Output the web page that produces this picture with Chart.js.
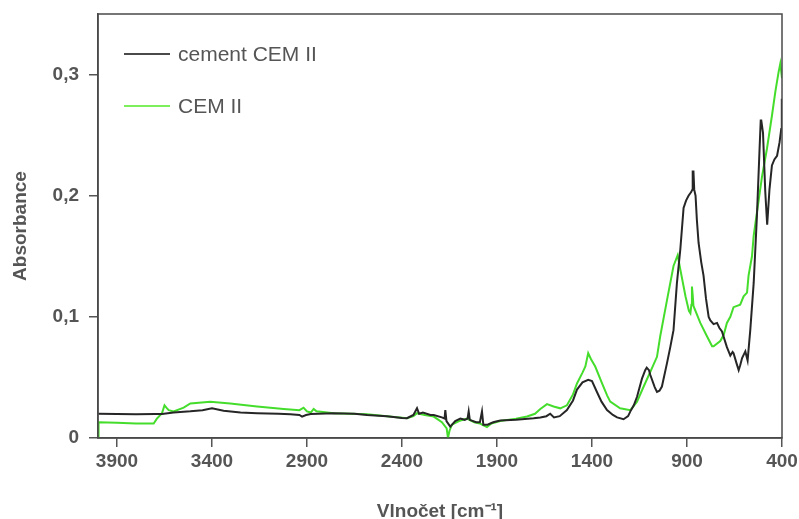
<!DOCTYPE html>
<html>
<head>
<meta charset="utf-8">
<script src="https://cdn.jsdelivr.net/npm/chart.js@4"></script>
<style>
  html, body { margin: 0; padding: 0; background: #fff; }
  #wrap { width: 799px; height: 519px; }
</style>
</head>
<body>
<div id="wrap"><canvas id="ftir" width="799" height="519"></canvas></div>
<script>
// FTIR spectra, wavenumber [cm-1] vs absorbance
var cementWave = [3998, 3900, 3800, 3700, 3663, 3602, 3514, 3450, 3400, 3339, 3250, 3163, 3050, 2988, 2940, 2926, 2905, 2880,
    2760, 2650, 2584, 2480, 2400, 2374, 2340, 2321, 2310, 2290, 2250, 2233, 2190, 2176, 2172, 2166, 2146, 2120, 2093, 2070,
    2055, 2049, 2043, 2010, 1990, 1979, 1972, 1950, 1920, 1883, 1800, 1707, 1672, 1640, 1620, 1600, 1570, 1532, 1500, 1479,
    1450, 1420, 1400, 1374, 1350, 1321, 1290, 1268, 1234, 1210, 1198, 1180, 1163, 1137, 1120, 1112, 1100, 1093, 1070, 1058,
    1045, 1032, 1005, 988, 971, 953, 935, 918, 905, 892, 878, 872, 870, 866, 862, 855, 848, 839, 825, 813, 800, 786, 777,
    760, 742, 730, 716, 700, 690, 672, 660, 655, 640, 628, 620, 610, 593, 581, 567, 549, 532, 518, 512, 509, 500, 488, 478,
    474, 466, 453, 440, 426, 413, 404, 401];
var cementAbs = [0.020, 0.0198, 0.0196, 0.0198, 0.0198, 0.021, 0.022, 0.023, 0.0245, 0.0225, 0.021, 0.0205, 0.020, 0.0196, 0.019, 0.0177, 0.019, 0.0198,
    0.0205, 0.020, 0.019, 0.018, 0.0165, 0.0163, 0.019, 0.0246, 0.020, 0.021, 0.019, 0.019, 0.017, 0.016, 0.023, 0.014, 0.0094, 0.014, 0.016, 0.015,
    0.016, 0.022, 0.015, 0.013, 0.013, 0.022, 0.011, 0.011, 0.013, 0.0145, 0.015, 0.0163, 0.017, 0.018, 0.020, 0.017, 0.018, 0.023, 0.031, 0.040,
    0.046, 0.048, 0.047, 0.038, 0.030, 0.023, 0.019, 0.017, 0.0155, 0.018, 0.022, 0.027, 0.034, 0.049, 0.056, 0.058, 0.056, 0.052, 0.042, 0.038,
    0.039, 0.0425, 0.062, 0.075, 0.089, 0.128, 0.156, 0.190, 0.196, 0.200, 0.203, 0.205, 0.220, 0.220, 0.205, 0.200, 0.180, 0.161, 0.145, 0.134, 0.115, 0.100, 0.097,
    0.094, 0.095, 0.091, 0.088, 0.080, 0.075, 0.068, 0.071, 0.070, 0.062, 0.056, 0.060, 0.066, 0.0715, 0.064, 0.089, 0.128, 0.183, 0.239, 0.262, 0.262, 0.252, 0.203, 0.176,
    0.176, 0.205, 0.225, 0.230, 0.233, 0.244, 0.255, 0.280];

var cemWave = [4000, 3997, 3900, 3800, 3707, 3690, 3663, 3650, 3640, 3628, 3602, 3549, 3514, 3409, 3304, 3163, 3023, 2940, 2918, 2900,
    2880, 2865, 2850, 2760, 2584, 2480, 2374, 2340, 2321, 2280, 2233, 2190, 2165, 2158, 2150, 2137, 2100, 2058, 2020, 1990,
    1979, 1953, 1930, 1883, 1800, 1742, 1700, 1672, 1637, 1602, 1567, 1532, 1500, 1479, 1450, 1435, 1420, 1405, 1383, 1347,
    1320, 1304, 1252, 1198, 1163, 1128, 1092, 1058, 1041, 1005, 971, 949, 935, 908, 890, 882, 877, 874, 870, 866, 830, 795,
    768, 760, 725, 707, 690, 672, 655, 620, 602, 584, 576, 558, 549, 532, 505, 479, 453, 435, 418, 409, 400];
var cemAbs = [0.0, 0.013, 0.0125, 0.012, 0.012, 0.016, 0.0205, 0.027, 0.025, 0.023, 0.022, 0.025, 0.0285, 0.030, 0.0285, 0.026, 0.024, 0.023, 0.025, 0.022,
    0.021, 0.024, 0.022, 0.0205, 0.0196, 0.018, 0.0163, 0.018, 0.0205, 0.019, 0.0177, 0.013, 0.008, 0.0, 0.006, 0.011, 0.014, 0.016, 0.013, 0.012,
    0.011, 0.009, 0.012, 0.014, 0.016, 0.0177, 0.020, 0.024, 0.028, 0.026, 0.0245, 0.027, 0.036, 0.045, 0.054, 0.059, 0.070, 0.065, 0.059, 0.045,
    0.035, 0.030, 0.0245, 0.023, 0.030, 0.0425, 0.055, 0.067, 0.084, 0.114, 0.142, 0.151, 0.139, 0.117, 0.105, 0.103, 0.110, 0.125, 0.118, 0.109, 0.095, 0.084,
    0.0757, 0.0757, 0.080, 0.085, 0.095, 0.100, 0.108, 0.110, 0.117, 0.120, 0.134, 0.150, 0.167, 0.186, 0.216, 0.239, 0.266, 0.286, 0.302, 0.309, 0.297];

var seriesNames = ['cement CEM II', 'CEM II'];
var xTickValues = [3900, 3400, 2900, 2400, 1900, 1400, 900, 400];
var yTickValues = [0, 0.1, 0.2, 0.3];

var FONT = "'Liberation Sans', Arial, sans-serif";
var GREY = '#555';

function toPoints(xs, ys) {
    return xs.map((x, i) => ({ x: x, y: ys[i] }));
}

// box around the plot area plus the legend inside it
var framePlugin = {
    id: 'frameAndLegend',
    afterDraw(chart) {
        var ctx = chart.ctx, a = chart.chartArea;
        ctx.save();
        ctx.strokeStyle = '#4a4a4a';
        ctx.lineWidth = 1.5;
        ctx.strokeRect(a.left, a.top, a.right - a.left, a.bottom - a.top);

        var legendColors = ['#4a4a4a', '#7def5c'];
        ctx.font = '21px ' + FONT;
        ctx.textBaseline = 'middle';
        chart.data.datasets.forEach((ds, i) => {
            var y = 54 + i * 52;
            ctx.strokeStyle = legendColors[i];
            ctx.lineWidth = 2;
            ctx.beginPath();
            ctx.moveTo(124, y);
            ctx.lineTo(170, y);
            ctx.stroke();
            ctx.fillStyle = GREY;
            ctx.fillText(ds.label, 178, y + 1);
        });
        ctx.restore();
    }
};

// keep the plot box where the layout padding puts it
function noEdgePadding(s) {
    s.paddingTop = 0;
    s.paddingBottom = 0;
    s.paddingLeft = 0;
    s.paddingRight = 0;
}

new Chart(document.getElementById('ftir'), {
    type: 'line',
    data: {
        datasets: [{
            label: seriesNames[0],
            data: toPoints(cementWave, cementAbs),
            borderColor: '#262626',
            borderWidth: 2,
            pointRadius: 0,
            tension: 0
        }, {
            label: seriesNames[1],
            data: toPoints(cemWave, cemAbs),
            borderColor: '#45dd2c',
            borderWidth: 2,
            pointRadius: 0,
            tension: 0
        }]
    },
    options: {
        responsive: false,
        animation: false,
        layout: { padding: { top: 14, right: 17, left: 0, bottom: 0 } },
        plugins: {
            legend: { display: false },
            tooltip: { enabled: false }
        },
        scales: {
            x: {
                type: 'linear',
                reverse: true,
                min: 400,
                max: 4000,
                afterBuildTicks: s => { s.ticks = xTickValues.map(v => ({ value: v })); },
                afterFit: s => { s.height = 81; noEdgePadding(s); },
                grid: { drawOnChartArea: false, tickLength: 9, color: GREY, lineWidth: 1.5 },
                border: { color: '#4a4a4a', width: 1.5 },
                ticks: {
                    font: { family: FONT, size: 19, weight: 'bold' },
                    color: GREY,
                    padding: 3,
                    maxRotation: 0,
                    callback: v => String(v)
                },
                title: {
                    display: true,
                    text: 'Vlnočet [cm⁻¹]',
                    font: { family: FONT, size: 19, weight: 'bold', lineHeight: 0.8 },
                    color: GREY,
                    padding: { top: 0, bottom: 0 }
                }
            },
            y: {
                min: 0,
                max: 0.35,
                afterBuildTicks: s => { s.ticks = yTickValues.map(v => ({ value: v })); },
                afterFit: s => { s.width = 98; noEdgePadding(s); },
                grid: { drawOnChartArea: false, tickLength: 9, color: GREY, lineWidth: 1.5 },
                border: { color: '#4a4a4a', width: 1.5 },
                ticks: {
                    font: { family: FONT, size: 19, weight: 'bold' },
                    color: GREY,
                    padding: 10,
                    callback: v => v === 0 ? '0' : v.toFixed(1).replace('.', ',')
                },
                title: {
                    display: true,
                    text: 'Absorbance',
                    font: { family: FONT, size: 19, weight: 'bold' },
                    color: GREY,
                    padding: { top: 9, bottom: 0 }
                }
            }
        }
    },
    plugins: [framePlugin]
});
</script>
</body>
</html>
